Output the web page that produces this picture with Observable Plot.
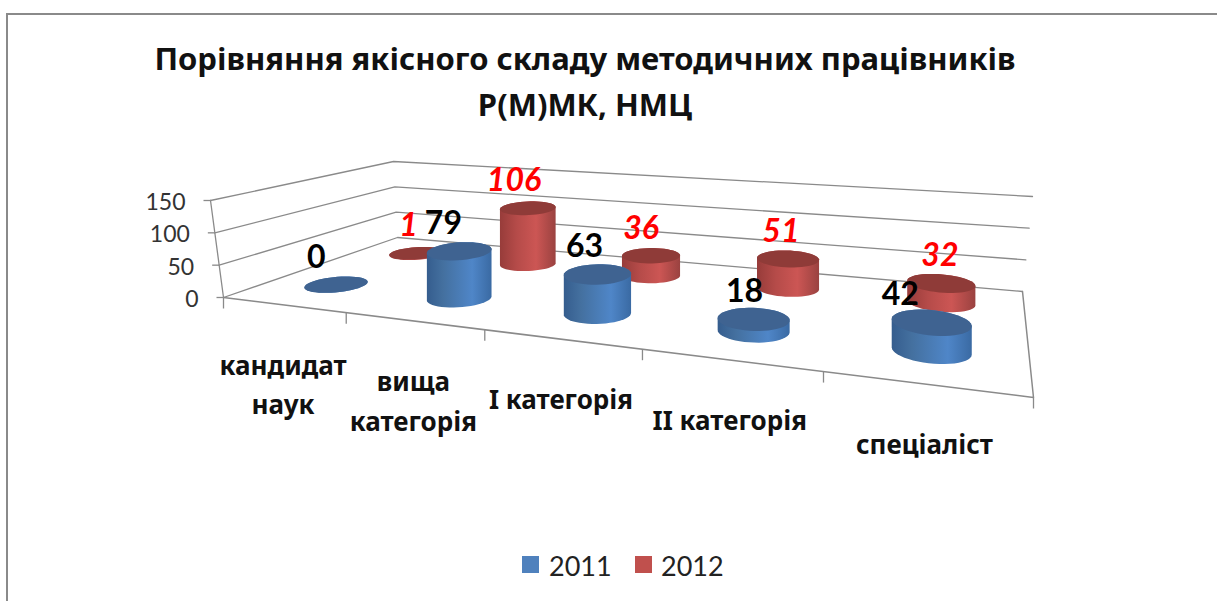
<!DOCTYPE html>
<html><head><meta charset="utf-8">
<script src="https://cdn.jsdelivr.net/npm/d3@7"></script>
<script src="https://cdn.jsdelivr.net/npm/@observablehq/plot@0.6"></script>
<style>
html,body{margin:0;padding:0;background:#fff;overflow:hidden;width:1217px;height:601px;font-family:"Noto Sans",sans-serif}
#frame{position:absolute;left:6px;top:13px;right:-10px;bottom:-10px;border:2px solid #8a8a8a;pointer-events:none}
#title{position:relative;height:140px;box-sizing:border-box;padding-top:35px;width:1170px;text-align:center;font-weight:700;font-size:31px;line-height:46px;color:#111}
#chart{height:400px}
#legend{position:relative;height:61px;font-size:27px;color:#222;font-family:Lato,sans-serif}
#legend span{position:absolute;top:11px;line-height:30px}
#legend i{position:absolute;top:16px;width:17px;height:17px}
</style></head><body>
<div id="frame"></div>
<div id="title">Порівняння якісного складу методичних працівників<br>Р(М)МК, НМЦ</div>
<div id="chart"></div>
<div id="legend"></div>
<script>
// ---- data
const categories = ["кандидат\nнаук", "вища\nкатегорія", "I категорія", "II категорія", "спеціаліст"];
const series2011 = [0, 79, 63, 18, 42];
const series2012 = [1, 106, 36, 51, 32];
const yTicks = [0, 50, 100, 150];
const seriesNames = ["2011", "2012"];

// ---- perspective box and label placement (layout)
const yMax = 150;
const floor = [[223,297],[1033,397],[1022,291],[397,237]];   // front-left, front-right, back-right, back-left
const ceil  = [[210,200],[1045,281],[1032,196],[393,161]];
const nudge = {2011:[-20,-16,-13,-9,-31], 2012:[-8,-14,-10,-7,-1]};
function quad(q){
  const [[x0,y0],[x1,y1],[x2,y2],[x3,y3]] = q;
  const dx1=x1-x2, dx2=x3-x2, sx=x0-x1+x2-x3, dy1=y1-y2, dy2=y3-y2, sy=y0-y1+y2-y3;
  const d=dx1*dy2-dx2*dy1, g=(sx*dy2-dx2*sy)/d, h=(dx1*sy-sx*dy1)/d;
  const a=x1-x0+g*x1, b=x3-x0+h*x3, c=x0, e=y1-y0+g*y1, f=y3-y0+h*y3, i=y0;
  return (u,v)=>{const w=g*u+h*v+1; return [(a*u+b*v+c)/w,(e*u+f*v+i)/w];};
}
const F=quad(floor), C=quad(ceil);
function P(u,v,val){
  const t=val/yMax, p=F(u,v), q=C(u,v);
  return [p[0]+(q[0]-p[0])*t, p[1]+(q[1]-p[1])*t];
}
const depth = {2011:0.27, 2012:0.77};
const ru=0.042, rv=0.11;
const uOf = i => (i+0.5)/categories.length;
const lift = (i,s,val)=>(F(uOf(i),depth[s])[1]-C(uOf(i),depth[s])[1])*val/yMax*0.92;
const angles = d3.range(0,48).map(k=>k/48*2*Math.PI);
// cylinders stand upright on the floor: the cap is the base ring raised by the value
const ring = (i,s,val)=>angles.map(a=>{
  const p=F(uOf(i)+ru*Math.cos(a),depth[s]+rv*Math.sin(a));
  return [p[0],p[1]-lift(i,s,val)];
});
function cylRows(s,vals){
  const body=[],top=[];
  vals.forEach((val,i)=>{
    const hull=d3.polygonHull([...ring(i,s,0),...ring(i,s,val)]);
    hull.forEach(p=>body.push({x:p[0],y:p[1],k:i}));
    ring(i,s,val).forEach(p=>top.push({x:p[0],y:p[1],k:i}));
  });
  return {body,top};
}
const red=cylRows(2012,series2012), blue=cylRows(2011,series2011);

// grid rows
const grid=[];
yTicks.forEach(t=>{
  [[0,0],[0,1],[1,1]].forEach(([u,v])=>{const p=P(u,v,t);grid.push({x:p[0],y:p[1],k:"g"+t});});
});
const frontEdge=[[0,0],[1,0],[1,1]].map(([u,v])=>{const p=F(u,v);return {x:p[0],y:p[1],k:"f"};});
const wall=[0,yMax].map(t=>{const p=P(0,0,t);return {x:p[0],y:p[1],k:"w"};});
const xTicks=d3.range(0,categories.length+1).map(i=>{const p=F(i/categories.length,0);return {x:p[0],y:p[1],y2:p[1]+11};});
const yTickRows=yTicks.map(t=>{const p=P(0,0,t);return {x:p[0],y:p[1],x2:p[0]-7,label:String(t)};});
const catLabels=categories.map((c,i)=>{const p=F(uOf(i),0);return {x:p[0],y:p[1],label:c};});

const valueLabel=(s,vals)=>vals.map((val,i)=>{
  const c=F(uOf(i),depth[s]);
  return {x:c[0]+nudge[s][i],y:c[1]-lift(i,s,val),label:String(val)};
});
const lab2011=valueLabel(2011,series2011), lab2012=valueLabel(2012,series2012);

const gradient=(id,stops)=>()=>{
  const defs=d3.create("svg:defs");
  const g=defs.append("linearGradient").attr("id",id).attr("x1",0).attr("x2",1).attr("y1",0).attr("y2",0);
  stops.forEach(([o,c])=>g.append("stop").attr("offset",o).attr("stop-color",c));
  return defs.node();
};
const lato={fontFamily:"Lato,sans-serif"}, noto={fontFamily:"'Noto Sans',sans-serif"};
const lineBase={x:"x",y:"y",z:"k",curve:"linear"};

const plot=Plot.plot({
  width:1217,height:400,margin:0,
  x:{domain:[0,1217],range:[0,1217],axis:null},
  y:{domain:[140,540],range:[0,400],axis:null},
  style:{background:"transparent",overflow:"visible"},
  marks:[
    gradient("gb",[[0,"#355d8e"],[0.25,"#44709f"],[0.7,"#4f86c8"],[1,"#3a6aa3"]]),
    gradient("gr",[[0,"#973c3a"],[0.3,"#b54b49"],[0.65,"#cc5654"],[1,"#9a4240"]]),
    Plot.line(grid,{...lineBase,stroke:"#8a8a8a",strokeWidth:1.3}),
    Plot.line(frontEdge,{...lineBase,stroke:"#8a8a8a",strokeWidth:1.5}),
    Plot.line(wall,{...lineBase,stroke:"#8a8a8a",strokeWidth:1.3}),
    Plot.link(xTicks,{x1:"x",y1:"y",x2:"x",y2:"y2",stroke:"#8a8a8a",strokeWidth:1.3}),
    Plot.link(yTickRows,{x1:"x",y1:"y",x2:"x2",y2:"y",stroke:"#8a8a8a",strokeWidth:1.3}),
    Plot.text(yTickRows,{x:"x",y:"y",text:"label",textAnchor:"end",dx:-25,dy:2,fontSize:23,fill:"#333",...lato}),
    Plot.line(red.body,{...lineBase,fill:"url(#gr)",stroke:"none"}),
    Plot.line(red.top,{...lineBase,fill:"#8f3b38",stroke:"none"}),
    Plot.line(blue.body,{...lineBase,fill:"url(#gb)",stroke:"none"}),
    Plot.line(blue.top,{...lineBase,fill:"#3f6391",stroke:"none"}),
    Plot.text(catLabels,{x:"x",y:"y",text:"label",lineAnchor:"top",dy:42,fontSize:26,fontWeight:700,lineHeight:1.52,fill:"#111",...noto}),
    Plot.text(lab2012,{x:"x",y:"y",text:"label",dy:-27,fontSize:32,fontWeight:700,fontStyle:"italic",fill:"#ff0000",...lato}),
    Plot.text(lab2011,{x:"x",y:"y",text:"label",dy:-27,fontSize:32,fontWeight:700,fill:"#000",...lato})
  ]
});
document.getElementById("chart").appendChild(plot);
const leg=document.getElementById("legend");
[["#4f81bd",522,549],["#c0504d",635,661]].forEach(([c,sx,tx],i)=>{
  const b=document.createElement("i");b.style.cssText=`left:${sx}px;background:${c}`;leg.appendChild(b);
  const t=document.createElement("span");t.style.left=tx+"px";t.textContent=seriesNames[i];leg.appendChild(t);
});
</script>
</body></html>
